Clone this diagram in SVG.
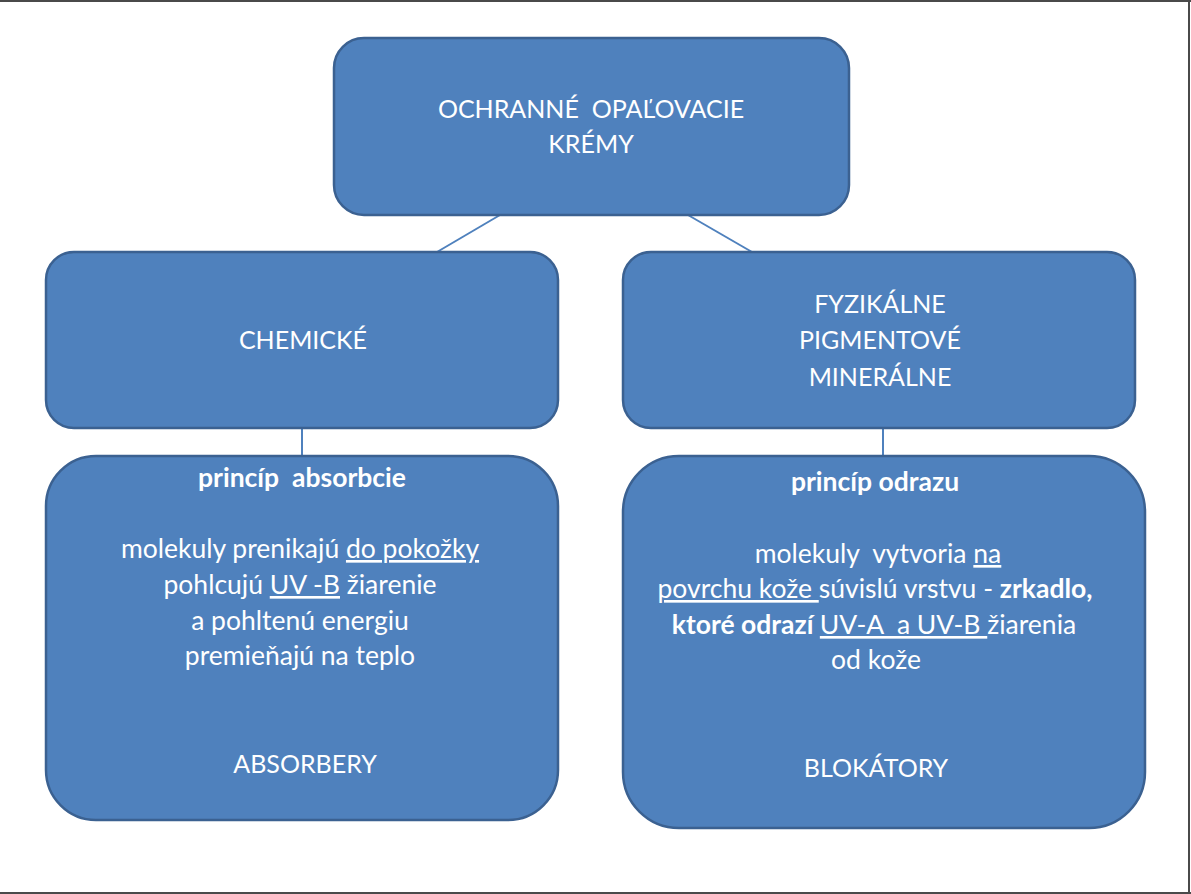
<svg xmlns="http://www.w3.org/2000/svg" width="1191" height="894" viewBox="0 0 1191 894">
<style>
.box{fill:#4f81bd;stroke:#3b6191;stroke-width:2.5}
.conn{stroke:#4f81bd;stroke-width:2;fill:none}
text{font-family:Lato,"Open Sans","Liberation Sans",sans-serif;font-size:26.5px;fill:#ffffff;text-anchor:middle;white-space:pre}
.c{font-size:25px}
.b{font-weight:bold}
.u{text-decoration:underline}
.frame{stroke:#4a4a4a;stroke-width:2}
</style>
<rect x="0" y="0" width="1191" height="894" fill="#ffffff"/>
<g id="frame">
<line class="frame" x1="0" y1="1" x2="1191" y2="1"/>
<line class="frame" x1="1189" y1="0" x2="1189" y2="894"/>
<line class="frame" x1="0" y1="893" x2="1191" y2="893"/>
</g>
<g id="connectors">
<line class="conn" x1="500" y1="215" x2="437" y2="252"/>
<line class="conn" x1="688" y1="215" x2="752" y2="252"/>
<line class="conn" x1="302" y1="428" x2="302" y2="456"/>
<line class="conn" x1="883" y1="428" x2="883" y2="456"/>
</g>
<g id="root">
<rect class="box" x="334" y="38" width="515" height="177" rx="30"/>
<text class="c" x="591" y="118">OCHRANNÉ  OPAĽOVACIE</text>
<text class="c" x="591" y="153">KRÉMY</text>
</g>
<g id="chemicke">
<rect class="box" x="46" y="252" width="512" height="176" rx="28"/>
<text class="c" x="303" y="349">CHEMICKÉ</text>
</g>
<g id="fyzikalne">
<rect class="box" x="623" y="252" width="512" height="176" rx="28"/>
<text class="c" x="880" y="313">FYZIKÁLNE</text>
<text class="c" x="880" y="349">PIGMENTOVÉ</text>
<text class="c" x="880" y="386">MINERÁLNE</text>
</g>
<g id="absorbery">
<rect class="box" x="46" y="456" width="512" height="364" rx="50"/>
<text x="302" y="487" class="b">princíp  absorbcie</text>
<text x="300" y="558">molekuly prenikajú <tspan class="u">do pokožky</tspan></text>
<text x="300" y="594">pohlcujú <tspan class="u">UV -B</tspan> žiarenie</text>
<text x="300" y="630">a pohltenú energiu</text>
<text x="300" y="665">premieňajú na teplo</text>
<text class="c" x="305" y="773">ABSORBERY</text>
</g>
<g id="blokatory">
<rect class="box" x="623" y="456" width="522" height="372" rx="56"/>
<text x="875" y="491" class="b">princíp odrazu</text>
<text x="878" y="563">molekuly  vytvoria <tspan class="u">na</tspan></text>
<text x="875" y="598"><tspan class="u">povrchu kože </tspan>súvislú vrstvu - <tspan class="b">zrkadlo,</tspan></text>
<text x="874" y="634"><tspan class="b">ktoré odrazí </tspan><tspan class="u">UV-A  a UV-B </tspan>žiarenia</text>
<text x="876" y="669">od kože</text>
<text class="c" x="876" y="777">BLOKÁTORY</text>
</g>
</svg>
